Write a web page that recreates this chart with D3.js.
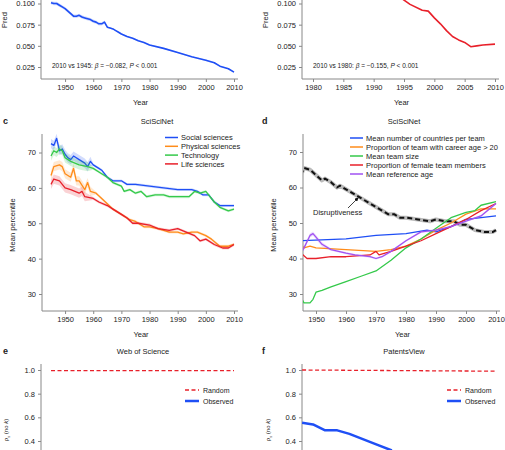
<!DOCTYPE html><html><head><meta charset="utf-8">
<script src="https://cdn.jsdelivr.net/npm/d3@7"></script>
<style>body{margin:0;background:#fff}text{font-family:"Liberation Sans",Arial,sans-serif}</style></head><body>
<svg id="s" width="505" height="450"></svg>
<script>
const aData=[[1945,.101],[1946,.100],[1947,.100],[1948,.098],[1949,.096],[1950,.094],[1951,.091],[1952,.088],[1953,.085],[1954,.085],[1955,.086],[1956,.084],[1957,.083],[1958,.082],[1959,.081],[1960,.079],[1961,.078],[1962,.076],[1963,.076],[1964,.078],[1965,.072],[1966,.071],[1967,.070],[1968,.068],[1969,.066],[1970,.064],[1972,.061],[1974,.059],[1976,.056],[1978,.054],[1980,.051],[1985,.047],[1990,.042],[1995,.037],[2000,.033],[2003,.030],[2005,.026],[2008,.023],[2010,.019]];
const bData=[[1990,.13],[1993,.115],[1995,.104],[1996,.099],[1998,.092],[1999,.091],[2000,.083],[2001,.076],[2002,.068],[2003,.061],[2004,.057],[2005,.054],[2006,.049],[2007,.050],[2008,.051],[2010,.052]];
const cSeries=["Social sciences","Physical sciences","Technology","Life sciences"];
const cSocial=[[1945,72.5],[1946,72],[1947,74],[1948,70.5],[1949,71],[1950,69.5],[1951,68.5],[1952,68],[1953,69],[1955,68],[1957,67],[1958,66],[1959,67.5],[1960,66.5],[1962,65.5],[1963,65],[1965,63],[1967,62],[1970,62],[1972,61],[1975,61],[1980,60.5],[1985,60],[1990,59.5],[1992,59.5],[1995,59.5],[1997,59],[1999,58],[2001,58],[2003,56],[2005,55],[2008,55],[2010,55]];
const cPhys=[[1945,63.5],[1946,66],[1948,66.5],[1949,66],[1950,64],[1951,63.5],[1952,63],[1953,65.5],[1954,62],[1955,62],[1957,59.5],[1958,61.5],[1959,59],[1961,58.5],[1963,57],[1965,55.5],[1967,54],[1970,52.5],[1973,51],[1975,50.5],[1978,49],[1980,49],[1983,48.5],[1987,47.5],[1990,47.5],[1992,47],[1995,47.5],[1997,47.5],[2000,46.5],[2002,45.5],[2005,43.5],[2008,43.5],[2010,44]];
const cTech=[[1945,69],[1946,70.5],[1947,70],[1948,71],[1949,70.5],[1950,68.5],[1952,67.5],[1955,66.5],[1958,66],[1960,65.5],[1962,64.5],[1965,63],[1967,61.5],[1970,60.5],[1971,59],[1973,59.5],[1975,58.5],[1977,59],[1979,57.5],[1982,58],[1985,58],[1987,57.5],[1990,57.5],[1992,57.5],[1994,57.5],[1996,59],[1998,58.5],[2000,59],[2003,56],[2005,54.5],[2008,53.5],[2010,54]];
const cLife=[[1945,61],[1946,62.5],[1948,62],[1950,60],[1952,59.5],[1955,58.5],[1956,59],[1957,57.5],[1960,57],[1962,56],[1965,55],[1967,54],[1970,52.5],[1972,51.5],[1974,50],[1976,50],[1980,49.5],[1983,48.5],[1987,48],[1990,48.5],[1993,47.5],[1996,46.5],[1998,45],[2000,45.5],[2003,44],[2006,43],[2008,43],[2010,44]];
const dSeries=["Mean number of countries per team","Proportion of team with career age > 20","Mean team size","Proportion of female team members","Mean reference age"];
const dDisrupt=[[1945,63.5],[1946,65.5],[1948,65],[1950,63.5],[1952,62],[1953,62.5],[1955,61.5],[1957,60],[1958,60.5],[1960,59.5],[1963,58],[1965,57],[1968,55.5],[1970,54.5],[1972,53.5],[1974,52.5],[1976,52.5],[1978,51.5],[1980,51.5],[1984,51],[1988,50.5],[1990,51],[1993,50.5],[1996,50.5],[1998,49.5],[2000,49.5],[2003,48],[2006,47.5],[2009,47.5],[2010,48]];
const dCountries=[[1945,45],[1960,45.5],[1970,46.5],[1980,47],[1987,48],[1990,47.5],[1995,49],[2000,51],[2005,51.5],[2010,52]];
const dCareer=[[1945,44],[1946,43],[1948,43.5],[1950,43],[1960,42.5],[1970,42],[1975,42.5],[1980,43.5],[1985,45.5],[1990,48],[1995,50],[2000,52.5],[2005,54],[2010,54]];
const dTeam=[[1945,29],[1946,27.5],[1948,27.5],[1949,28.5],[1950,30.5],[1952,31],[1955,32],[1960,33.5],[1965,35],[1970,36.5],[1975,39.5],[1980,43],[1985,45.5],[1990,48.5],[1995,51.5],[2000,53],[2003,53.5],[2005,55],[2010,56]];
const dFemale=[[1945,41.5],[1947,40],[1950,40],[1955,40.5],[1960,40.5],[1968,41],[1970,42],[1971,41],[1975,42],[1980,43.5],[1985,45],[1990,47],[1995,49],[2000,51],[2005,53.5],[2010,55.5]];
const dRefAge=[[1945,41.5],[1946,43],[1948,46.5],[1949,47],[1950,46],[1952,44],[1955,42.5],[1960,41.5],[1963,41],[1968,40.5],[1970,40],[1972,40.5],[1975,42],[1980,45],[1985,47.5],[1990,48],[1995,49],[2000,50.5],[2005,52],[2010,55.5]];
const eRandom=[[1945,.995],[2010,.995]];
const fRandom=[[1978.2,1.0],[2010,.99]];
const fObserved=[[1978.2,.555],[1980,.54],[1982,.49],[1984,.49],[1986,.46],[1990,.38],[1993,.32]];
const yearTicksA=[1950,1960,1970,1980,1990,2000,2010];
const yearTicksB=[1980,1985,1990,1995,2000,2005,2010];

const C={blue:"#1f4ff5",orange:"#ff8c1a",green:"#34c94a",red:"#e8202a",purple:"#a152f2"};
const svg=d3.select("#s");
const defs=svg.append("defs");
let cid=0;
// o: xd,xr (scale), xl (y-axis x), axY (x-axis y), yd,yr, ytop, yticks, yfmt, xticks
function panel(o){
  const g=svg.append("g");
  const x=d3.scaleLinear().domain(o.xd).range(o.xr);
  const y=d3.scaleLinear().domain(o.yd).range(o.yr);
  const id="c"+(cid++);
  const top=Math.max(0,o.ytop);
  defs.append("clipPath").attr("id",id).append("rect").attr("x",o.xl).attr("y",top).attr("width",505-o.xl).attr("height",o.axY-top);
  if(o.xticks){
    const ax=g.append("g").attr("transform",`translate(0,${o.axY})`).call(d3.axisBottom(x).tickValues(o.xticks).tickFormat(d3.format("d")).tickSize(3));
    ax.select(".domain").attr("d",`M${o.xl},0H${o.xr[1]+4}`);
    g.append("text").attr("x",(o.xl+o.xr[1])/2+3).attr("y",o.axY+26).attr("text-anchor","middle").attr("font-size",7.5).text("Year");
  }
  const ay=g.append("g").attr("transform",`translate(${o.xl},0)`).call(d3.axisLeft(y).tickValues(o.yticks).tickFormat(d3.format(o.yfmt)).tickSize(3));
  ay.select(".domain").attr("d",`M0,${o.ytop}V${o.axY}`);
  g.selectAll(".tick text").attr("font-size",7.5).attr("font-family","Liberation Sans, Arial");
  g.selectAll(".domain,.tick line").attr("stroke","#888");
  const pg=g.append("g").attr("clip-path",`url(#${id})`);
  return {g,x,y,pg};
}
function line(p,data,col,w,band,dash){
  const l=d3.line().x(d=>p.x(d[0])).y(d=>p.y(d[1]));
  if(band){
    const a=d3.area().x(d=>p.x(d[0])).y0(d=>p.y(d[1]-band(d[0]))).y1(d=>p.y(d[1]+band(d[0])));
    p.pg.append("path").attr("d",a(data)).attr("fill",col).attr("opacity",.2);
  }
  p.pg.append("path").attr("d",l(data)).attr("fill","none").attr("stroke",col).attr("stroke-width",w).attr("stroke-dasharray",dash||null).attr("stroke-linejoin","round");
}
function txt(x,y,s,size,opt={}){const t=svg.append("text").attr("x",x).attr("y",y).attr("font-size",size).attr("text-anchor",opt.a||"start").attr("font-weight",opt.b?"bold":null);if(opt.html)t.html(s);else t.text(s);return t;}
// a
let pa=panel({xd:[1945,2010],xr:[51,234],xl:41,axY:79,yd:[0.025,0.1],yr:[67,3.5],ytop:-5,yticks:[.025,.05,.075,.1],yfmt:".3f",xticks:yearTicksA});
line(pa,aData,C.blue,1.6,yr=>yr<1965?0.002:0.0008);
txt(52,68,'2010 vs 1945:  <tspan font-style="italic">β</tspan> = −0.082, <tspan font-style="italic">P</tspan> &lt; 0.001',6.5,{html:1});
txt(7,20,"Pred",7.5,{a:"middle"}).attr("transform","rotate(-90,7,20)");
// b
let pb=panel({xd:[1980,2010],xr:[313,495],xl:302,axY:79,yd:[0.025,0.1],yr:[67,3.5],ytop:-5,yticks:[.025,.05,.075,.1],yfmt:".3f",xticks:yearTicksB});
line(pb,bData,C.red,1.6);
txt(313,68,'2010 vs 1980:  <tspan font-style="italic">β</tspan> = −0.155, <tspan font-style="italic">P</tspan> &lt; 0.001',6.5,{html:1});
txt(268,20,"Pred",7.5,{a:"middle"}).attr("transform","rotate(-90,268,20)");
// c
let pc=panel({xd:[1945,2010],xr:[51,234],xl:42,axY:311,yd:[30,70],yr:[294,152.5],ytop:134,yticks:[30,40,50,60,70],yfmt:"d",xticks:yearTicksA});
const cCols=[C.blue,C.orange,C.green,C.red];
[cSocial,cPhys,cTech,cLife].forEach((d,i)=>line(pc,d,cCols[i],1.3,yr=>yr<1960?1.3:0.4));
txt(3,124,"c",9,{b:1});txt(157,124,"SciSciNet",7.5,{a:"middle"});
txt(15,225,"Mean percentile",7.5,{a:"middle"}).attr("transform","rotate(-90,15,225)");
cSeries.forEach((s,i)=>{const yy=137.5+i*8.8;svg.append("line").attr("x1",165).attr("x2",178).attr("y1",yy).attr("y2",yy).attr("stroke",cCols[i]).attr("stroke-width",1.5);txt(181,yy+2.7,s,7.5);});
// d
let pd=panel({xd:[1950,2010],xr:[316,496],xl:303,axY:311,yd:[30,70],yr:[294,152],ytop:134,yticks:[30,40,50,60,70],yfmt:"d",xticks:yearTicksA});
line(pd,dDisrupt,"#bbb",4);line(pd,dDisrupt,"#111",2,null,"5,3");
const dCols=[C.blue,C.orange,C.green,C.red,C.purple];
[dCountries,dCareer,dTeam,dFemale].forEach((d,i)=>line(pd,d,dCols[i],1.3));
line(pd,dRefAge,C.purple,1.3,yr=>yr<1955?0.6:0.3);
txt(262,124,"d",9,{b:1});txt(404,124,"SciSciNet",7.5,{a:"middle"});
txt(276,225,"Mean percentile",7.5,{a:"middle"}).attr("transform","rotate(-90,276,225)");
dSeries.forEach((s,i)=>{const yy=138+i*9;svg.append("line").attr("x1",350).attr("x2",363).attr("y1",yy).attr("y2",yy).attr("stroke",dCols[i]).attr("stroke-width",1.5);txt(366,yy+2.7,s,7.5);});
txt(313,215,"Disruptiveness",7.5);
defs.append("marker").attr("id","ar").attr("viewBox","0 0 10 10").attr("refX",8).attr("refY",5).attr("markerWidth",5).attr("markerHeight",5).attr("orient","auto").append("path").attr("d","M0,0L10,5L0,10z").attr("fill","#111");
svg.append("line").attr("x1",348).attr("y1",208).attr("x2",358).attr("y2",198).attr("stroke","#111").attr("stroke-width",0.8).attr("marker-end","url(#ar)");
// e
let pe=panel({xd:[1945,2010],xr:[51,234],xl:41,axY:460,yd:[0.4,1.0],yr:[441,370],ytop:364,yticks:[.4,.6,.8,1.0],yfmt:".1f"});
line(pe,eRandom,C.red,1.3,null,"4,2.5");
txt(3,354,"e",9,{b:1});txt(143,354,"Web of Science",7.5,{a:"middle"});
txt(8,430,'',6,{a:"middle",html:1}).attr("transform","rotate(-90,8,430)").html('ρ<tspan font-size="4" dy="1.5">s</tspan><tspan dy="-1.5"> (no </tspan><tspan font-style="italic">k</tspan>)');
// f
let pf=panel({xd:[1980,2010],xr:[313,495],xl:302,axY:460,yd:[0.4,1.0],yr:[441,370],ytop:364,yticks:[.4,.6,.8,1.0],yfmt:".1f"});
line(pf,fRandom,C.red,1.3,null,"4,2.5");line(pf,fObserved,C.blue,2.5);
txt(262,354,"f",9,{b:1});txt(404,354,"PatentsView",7.5,{a:"middle"});
txt(270,430,'',6,{a:"middle",html:1}).attr("transform","rotate(-90,270,430)").html('ρ<tspan font-size="4" dy="1.5">s</tspan><tspan dy="-1.5"> (no </tspan><tspan font-style="italic">k</tspan>)');
[[185,203],[447,465]].forEach(([lx,tx])=>{
  svg.append("line").attr("x1",lx).attr("x2",lx+14).attr("y1",390).attr("y2",390).attr("stroke",C.red).attr("stroke-width",1.3).attr("stroke-dasharray","4,2.5");
  txt(tx,392.5,"Random",7);
  svg.append("line").attr("x1",lx).attr("x2",lx+14).attr("y1",401).attr("y2",401).attr("stroke",C.blue).attr("stroke-width",2.5);
  txt(tx,403.5,"Observed",7);
});
svg.selectAll("text").attr("fill","#222");
</script></body></html>
